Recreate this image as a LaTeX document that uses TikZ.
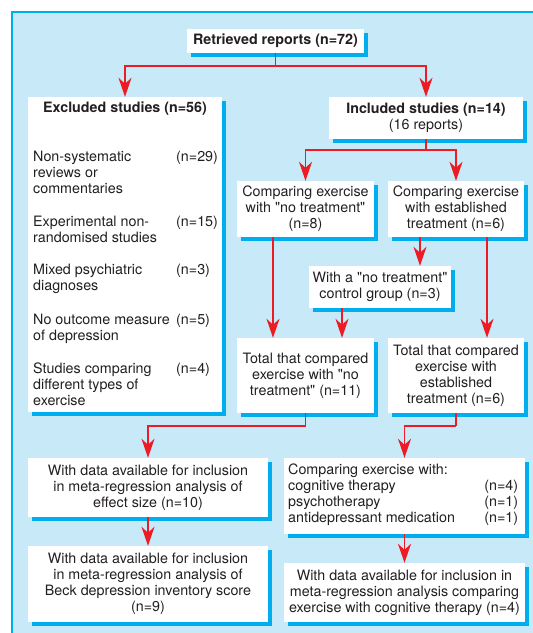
\documentclass[tikz,border=0pt]{standalone}
\usepackage{fontspec}
\setmainfont{TeX Gyre Heros}[Ligatures=TeXOff]
\usetikzlibrary{arrows.meta,shadows}
\definecolor{bgblue}{RGB}{200,233,248}
\definecolor{cyanline}{RGB}{0,174,239}
\definecolor{arrred}{RGB}{237,28,36}
\definecolor{txt}{RGB}{35,31,32}
\begin{document}
\begin{tikzpicture}[x=1pt,y=-1pt,
  every node/.style={font=\fontsize{14.3}{16}\selectfont, text=txt},
  box/.style={draw=none, fill=white, inner sep=0pt, align=center,
    drop shadow={shadow xshift=4pt, shadow yshift=-4pt, fill=cyanline, opacity=1}},
  plain/.style={inner sep=0pt},
  conn/.style={draw=arrred, line width=1.5pt},
  arr/.style={conn, -{Stealth[length=19pt,width=13pt,inset=6pt]}}]
\useasboundingbox (0,0) rectangle (533,633);
\fill[white] (0,0) rectangle (533,633);
\path[fill=bgblue, draw=cyanline, line width=1.5pt] (12,12) rectangle (545,645);

% boxes
\node[box, minimum width=177pt, minimum height=24pt] (ret) at (275.5,41) {\bfseries Retrieved reports (n=72)};
\node[box, minimum width=194pt, minimum height=315pt] (excl) at (125,254.5) {};
\node[box, minimum width=194pt, minimum height=42pt] (incl) at (426,118) {{\bfseries Included studies (n=14)}\\(16 reports)};
\node[box, minimum width=137pt, minimum height=56pt] (cnt) at (305.5,209) {Comparing exercise\\with "no treatment"\\(n=8)};
\node[box, minimum width=136pt, minimum height=56pt] (cet) at (456,209) {Comparing exercise\\with established\\treatment (n=6)};
\node[box, minimum width=142pt, minimum height=42pt] (ctrl) at (380,287) {With a "no treatment"\\control group (n=3)};
\node[box, minimum width=137pt, minimum height=75pt] (tnt) at (305.5,375.5) {Total that compared\\exercise with "no\\treatment" (n=11)};
\node[box, minimum width=136pt, minimum height=75pt] (tet) at (456,375.5) {Total that compared\\exercise with\\established\\treatment (n=6)};
\node[box, minimum width=240pt, minimum height=59pt] (eff) at (148,487.5) {With data available for inclusion\\in meta-regression analysis of\\effect size (n=10)};
\node[box, minimum width=240pt, minimum height=76pt] (beck) at (148,584) {With data available for inclusion\\in meta-regression analysis of\\Beck depression inventory score\\(n=9)};
\node[box, minimum width=241pt, minimum height=76pt] (cwith) at (404.5,496) {};
\node[box, minimum width=241pt, minimum height=59pt] (fin) at (404.5,592.5) {With data available for inclusion in\\meta-regression analysis comparing\\exercise with cognitive therapy (n=4)};

% texts inside excluded box
\node[plain] (exclt) at (125,109) {\bfseries Excluded studies (n=56)};
\node[plain, anchor=north west] (excll) at (33,149.8) {%
\begin{tabular}{@{}p{143pt}@{}l@{}}
\raggedright Non-systematic\newline reviews or\newline commentaries & (n=29)\\
 & \\[1pt]
\raggedright Experimental non-\newline randomised studies & (n=15)\\
 & \\[0pt]
\raggedright Mixed psychiatric\newline diagnoses & (n=3)\\
 & \\[2pt]
\raggedright No outcome measure\newline of depression & (n=5)\\
 & \\[1pt]
\raggedright Studies comparing\newline different types of\newline exercise & (n=4)
\end{tabular}};
\node[plain, anchor=north west] (cwitht) at (288,462.8) {%
\begin{tabular*}{230pt}{@{}l@{\extracolsep{\fill}}r@{}}
\multicolumn{2}{@{}l}{Comparing exercise with:}\\
cognitive therapy & (n=4)\\
psychotherapy & (n=1)\\
antidepressant medication & (n=1)
\end{tabular*}};

% connectors
\coordinate (j1) at (275.5,66);
\coordinate (j2) at (426,150);
\coordinate (j3) at (305.5,426);
\coordinate (j4) at (456,426);
\draw[conn] (ret) -- (j1);
\draw[arr] (j1) -| (excl);
\draw[arr] (j1) -| (incl);
\draw[conn] (incl) -- (j2);
\draw[arr] (j2) -| (cnt);
\draw[arr] (j2) -| (cet);
\draw[arr] ([xshift=-32.5pt]cnt.south) -- ([xshift=-32.5pt]cnt.south |- tnt.north);
\draw[arr] ([xshift=-36pt]cet.south) -- ([xshift=-36pt]cet.south |- ctrl.north);
\draw[arr] ([xshift=-38pt]ctrl.south) -- ([xshift=-38pt]ctrl.south |- tnt.north);
\draw[arr] ([xshift=31pt]cet.south) -- ([xshift=31pt]cet.south |- tet.north);
\draw[conn] (tnt) -- (j3);
\draw[arr] (j3) -| (eff);
\draw[conn] (tet) -- (j4);
\draw[arr] (j4) -| (cwith);
\draw[arr] (eff) -- (beck);
\draw[arr] (cwith) -- (fin);
\end{tikzpicture}
\end{document}
